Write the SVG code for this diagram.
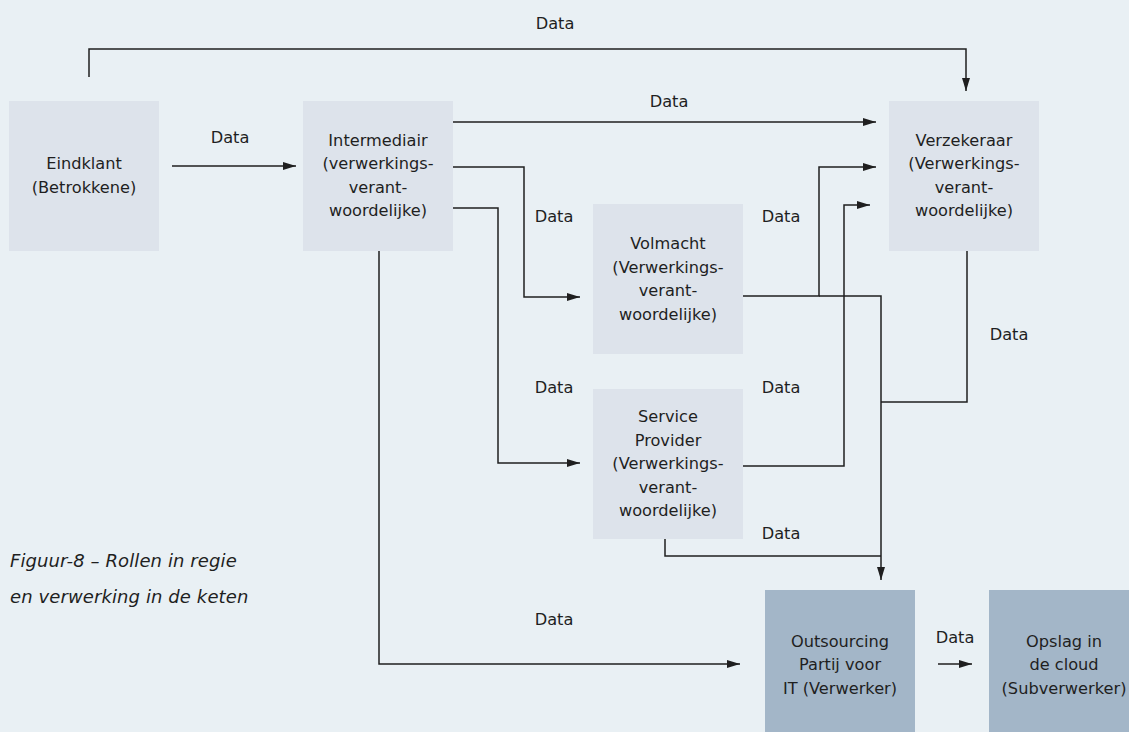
<svg xmlns="http://www.w3.org/2000/svg" width="1129" height="732" viewBox="0 0 1129 732">
<style>
.bg{fill:#e9f0f4}
.n{fill:#dde3eb}
.d{fill:#a3b6c8}
.t{font-family:"DejaVu Sans","Liberation Sans",sans-serif;font-size:16.2px;fill:#1f1f1f;text-anchor:middle}
.c{fill:none;stroke:#1f1f1f;stroke-width:1.5}
.cap{font-family:"DejaVu Sans","Liberation Sans",sans-serif;font-style:italic;font-size:18px;letter-spacing:0.1px;fill:#1f1f1f}
</style>
<defs>
<marker id="ah" markerUnits="userSpaceOnUse" markerWidth="14" markerHeight="10" refX="13" refY="5" orient="auto">
<path d="M0,1 L13,5 L0,9 Z" fill="#1f1f1f"/>
</marker>
</defs>
<rect class="bg" x="0" y="0" width="1129" height="732"/>
<g id="connectors">
<path class="c" d="M89,77 V49 H966 V91" marker-end="url(#ah)"/>
<path class="c" d="M172,166 H296" marker-end="url(#ah)"/>
<path class="c" d="M453,122 H876" marker-end="url(#ah)"/>
<path class="c" d="M453,167 H524 V297 H580" marker-end="url(#ah)"/>
<path class="c" d="M453,208 H498 V463 H580" marker-end="url(#ah)"/>
<path class="c" d="M743,296 H819 V167 H876" marker-end="url(#ah)"/>
<path class="c" d="M819,296 H881 V580" marker-end="url(#ah)"/>
<path class="c" d="M743,466 H844 V205 H870" marker-end="url(#ah)"/>
<path class="c" d="M967,251 V402 H881"/>
<path class="c" d="M665,539 V556 H881"/>
<path class="c" d="M379,251 V664 H740" marker-end="url(#ah)"/>
<path class="c" d="M938,664 H972" marker-end="url(#ah)"/>
<text class="t" x="555" y="29">Data</text>
<text class="t" x="230" y="143">Data</text>
<text class="t" x="669" y="107">Data</text>
<text class="t" x="554" y="222">Data</text>
<text class="t" x="781" y="222">Data</text>
<text class="t" x="554" y="393">Data</text>
<text class="t" x="781" y="393">Data</text>
<text class="t" x="1009" y="340">Data</text>
<text class="t" x="781" y="539">Data</text>
<text class="t" x="554" y="625">Data</text>
<text class="t" x="955" y="643">Data</text>
</g>
<g id="eindklant">
<rect class="n" x="9" y="101" width="150" height="150"/>
<text class="t" x="84" y="169">Eindklant</text>
<text class="t" x="84" y="193">(Betrokkene)</text>
</g>
<g id="intermediair">
<rect class="n" x="303" y="101" width="150" height="150"/>
<text class="t" x="378" y="146">Intermediair</text>
<text class="t" x="378" y="169">(verwerkings-</text>
<text class="t" x="378" y="193">verant-</text>
<text class="t" x="378" y="216">woordelijke)</text>
</g>
<g id="verzekeraar">
<rect class="n" x="889" y="101" width="150" height="150"/>
<text class="t" x="964" y="146">Verzekeraar</text>
<text class="t" x="964" y="169">(Verwerkings-</text>
<text class="t" x="964" y="193">verant-</text>
<text class="t" x="964" y="216">woordelijke)</text>
</g>
<g id="volmacht">
<rect class="n" x="593" y="204" width="150" height="150"/>
<text class="t" x="668" y="249">Volmacht</text>
<text class="t" x="668" y="273">(Verwerkings-</text>
<text class="t" x="668" y="296">verant-</text>
<text class="t" x="668" y="320">woordelijke)</text>
</g>
<g id="serviceprovider">
<rect class="n" x="593" y="389" width="150" height="150"/>
<text class="t" x="668" y="422">Service</text>
<text class="t" x="668" y="446">Provider</text>
<text class="t" x="668" y="469">(Verwerkings-</text>
<text class="t" x="668" y="493">verant-</text>
<text class="t" x="668" y="516">woordelijke)</text>
</g>
<g id="outsourcing">
<rect class="d" x="765" y="590" width="150" height="150"/>
<text class="t" x="840" y="647">Outsourcing</text>
<text class="t" x="840" y="670">Partij voor</text>
<text class="t" x="840" y="694">IT (Verwerker)</text>
</g>
<g id="opslag">
<rect class="d" x="989" y="590" width="150" height="150"/>
<text class="t" x="1064" y="647">Opslag in</text>
<text class="t" x="1064" y="670">de cloud</text>
<text class="t" x="1064" y="694">(Subverwerker)</text>
</g>
<g id="caption">
<text class="cap" x="10" y="567">Figuur-8 – Rollen in regie</text>
<text class="cap" x="10" y="603">en verwerking in de keten</text>
</g>
</svg>
